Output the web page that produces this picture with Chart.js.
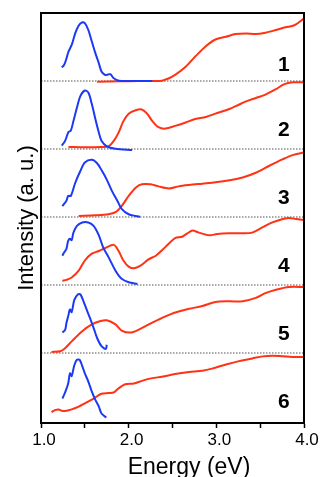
<!DOCTYPE html>
<html>
<head>
<meta charset="utf-8">
<script src="https://cdn.jsdelivr.net/npm/chart.js@4/dist/chart.umd.min.js"></script>
<style>
  body { margin: 0; background: #fff; }
  #wrap { width: 321px; height: 477px; }
</style>
</head>
<body>
<div id="wrap"><canvas id="myChart" width="321" height="477"></canvas></div>
<script>
// emission spectra (blue), [energy eV, intensity]
const pl1 = [[1.237,0.20],[1.26,0.23],[1.275,0.27],[1.29,0.33],[1.313,0.43],[1.35,0.53],[1.39,0.70],[1.427,0.81],[1.466,0.86],[1.50,0.85],[1.54,0.75],[1.58,0.58],[1.62,0.41],[1.66,0.26],[1.69,0.14],[1.73,0.09],[1.75,0.09],[1.79,0.10],[1.83,0.04],[1.89,0.005],[2.0,0],[2.27,0]];
const pl2 = [[1.237,0.05],[1.275,0.12],[1.313,0.25],[1.34,0.27],[1.37,0.41],[1.41,0.61],[1.45,0.78],[1.50,0.86],[1.54,0.83],[1.58,0.66],[1.62,0.44],[1.66,0.24],[1.69,0.12],[1.75,0.04],[1.85,0.005],[2.04,-0.015]];
const pl3 = [[1.244,0.16],[1.29,0.24],[1.31,0.31],[1.34,0.31],[1.39,0.50],[1.45,0.68],[1.50,0.80],[1.58,0.84],[1.64,0.79],[1.69,0.69],[1.75,0.55],[1.81,0.38],[1.87,0.24],[1.92,0.12],[2.0,0.04],[2.08,0.015],[2.13,0.005]];
const pl4 = [[1.244,0.43],[1.255,0.46],[1.275,0.50],[1.29,0.53],[1.31,0.65],[1.33,0.68],[1.35,0.66],[1.37,0.77],[1.41,0.87],[1.47,0.92],[1.54,0.92],[1.60,0.87],[1.66,0.73],[1.71,0.55],[1.77,0.41],[1.85,0.21],[1.92,0.09],[2.0,0.04],[2.10,0.015]];
const pl5 = [[1.244,0.30],[1.275,0.34],[1.29,0.44],[1.31,0.54],[1.33,0.64],[1.35,0.60],[1.38,0.78],[1.42,0.86],[1.45,0.86],[1.485,0.76],[1.52,0.64],[1.56,0.51],[1.60,0.37],[1.64,0.22],[1.69,0.10],[1.74,0.06],[1.75,0.12]];
const pl6 = [[1.244,0.33],[1.275,0.42],[1.31,0.55],[1.33,0.70],[1.35,0.66],[1.38,0.82],[1.41,0.90],[1.44,0.90],[1.47,0.81],[1.50,0.70],[1.54,0.58],[1.58,0.43],[1.62,0.31],[1.66,0.21],[1.69,0.11],[1.745,0.05]];

// absorption spectra (red)
const abs1 = [[1.64,-0.01],[1.9,-0.005],[2.1,0],[2.27,0],[2.38,0.005],[2.46,0.04],[2.53,0.09],[2.65,0.21],[2.76,0.36],[2.88,0.51],[2.99,0.61],[3.11,0.65],[3.22,0.69],[3.34,0.70],[3.45,0.69],[3.56,0.71],[3.68,0.75],[3.79,0.79],[3.89,0.82],[4.0,0.92]];
const abs2 = [[1.313,0.03],[1.50,0.025],[1.69,0.03],[1.77,0.04],[1.83,0.12],[1.885,0.24],[1.94,0.41],[2.0,0.52],[2.08,0.57],[2.15,0.58],[2.21,0.52],[2.27,0.41],[2.34,0.32],[2.42,0.30],[2.53,0.34],[2.65,0.39],[2.76,0.44],[2.88,0.47],[2.99,0.52],[3.11,0.57],[3.22,0.63],[3.34,0.70],[3.45,0.75],[3.56,0.80],[3.68,0.88],[3.77,0.95],[3.87,0.98],[4.0,0.98]];
const abs3 = [[1.43,0.015],[1.62,0.025],[1.77,0.04],[1.85,0.07],[1.92,0.16],[2.0,0.31],[2.08,0.43],[2.15,0.48],[2.25,0.48],[2.34,0.45],[2.46,0.42],[2.57,0.45],[2.69,0.47],[2.84,0.49],[2.99,0.51],[3.15,0.54],[3.30,0.58],[3.45,0.65],[3.60,0.75],[3.76,0.85],[3.87,0.91],[4.0,0.95]];
const abs4 = [[1.244,0.06],[1.29,0.075],[1.35,0.11],[1.43,0.21],[1.50,0.36],[1.58,0.46],[1.66,0.50],[1.73,0.54],[1.83,0.59],[1.885,0.50],[1.94,0.36],[2.0,0.27],[2.06,0.245],[2.13,0.28],[2.23,0.38],[2.31,0.43],[2.38,0.51],[2.46,0.61],[2.53,0.69],[2.61,0.71],[2.67,0.76],[2.73,0.80],[2.80,0.77],[2.92,0.73],[3.01,0.75],[3.15,0.76],[3.30,0.76],[3.41,0.77],[3.53,0.85],[3.64,0.92],[3.76,0.97],[3.83,0.985],[3.91,0.97],[4.0,0.955]];
const abs5 = [[1.12,0.015],[1.22,0.025],[1.275,0.07],[1.35,0.17],[1.47,0.32],[1.58,0.42],[1.68,0.47],[1.75,0.48],[1.85,0.42],[1.92,0.33],[2.02,0.30],[2.11,0.34],[2.23,0.42],[2.34,0.49],[2.46,0.56],[2.57,0.61],[2.69,0.65],[2.84,0.69],[2.99,0.75],[3.15,0.76],[3.30,0.76],[3.45,0.81],[3.56,0.88],[3.68,0.93],[3.83,0.97],[4.0,0.97]];
const abs6 = [[1.12,0.13],[1.16,0.16],[1.20,0.17],[1.237,0.15],[1.29,0.15],[1.35,0.17],[1.43,0.21],[1.50,0.26],[1.60,0.33],[1.69,0.40],[1.77,0.41],[1.83,0.42],[1.885,0.48],[1.96,0.54],[2.06,0.55],[2.15,0.59],[2.27,0.63],[2.38,0.65],[2.53,0.69],[2.69,0.72],[2.84,0.74],[2.95,0.77],[3.11,0.83],[3.26,0.88],[3.41,0.92],[3.53,0.95],[3.64,0.96],[3.76,0.95],[3.87,0.94],[4.0,0.94]];

const sampleLabels = ['1', '2', '3', '4', '5', '6'];
const xTicks = [1.0, 2.0, 3.0, 4.0];

const plList = [pl1, pl2, pl3, pl4, pl5, pl6];
const absList = [abs1, abs2, abs3, abs4, abs5, abs6];

// each panel is stacked one unit above the next, panel 1 on top
const offset = i => 5 - i;
const shift = (arr, i) => arr.map(p => ({ x: p[0], y: p[1] + offset(i) }));

const datasets = [];
plList.forEach((arr, i) => {
    datasets.push({
        label: 'PL ' + sampleLabels[i],
        data: shift(arr, i),
        borderColor: 'rgb(28, 58, 245)',
        borderWidth: 2,
        pointRadius: 0,
        tension: 0.3,
        order: 0
    });
});
absList.forEach((arr, i) => {
    datasets.push({
        label: 'Abs ' + sampleLabels[i],
        data: shift(arr, i),
        borderColor: 'rgb(255, 50, 20)',
        borderWidth: 2,
        pointRadius: 0,
        tension: 0.3,
        order: 1
    });
});
// dotted baselines (not for the bottom panel, which sits on the frame)
for (let i = 0; i < 5; i++) {
    datasets.push({
        label: 'base ' + sampleLabels[i],
        data: [{ x: 1.0, y: offset(i) }, { x: 4.0, y: offset(i) }],
        borderColor: '#8a8a8a',
        borderWidth: 1.5,
        borderDash: [1.5, 1.5],
        pointRadius: 0,
        order: 2
    });
}

const FONT = '"Liberation Sans", Arial, Helvetica, sans-serif';

const extras = {
    id: 'extras',
    afterDatasetsDraw(chart) {
        const c = chart.ctx;
        const a = chart.chartArea;
        const xs = chart.scales.x, ys = chart.scales.y;
        c.save();
        // numbers
        c.fillStyle = '#000';
        c.font = 'bold 21px ' + FONT;
        c.textAlign = 'center';
        c.textBaseline = 'middle';
        sampleLabels.forEach((t, i) => {
            c.fillText(t, xs.getPixelForValue(3.77), ys.getPixelForValue(offset(i) + (i === 0 ? 0.23 : 0.27)));
        });
        // frame
        c.strokeStyle = '#000';
        c.lineWidth = 2;
        c.strokeRect(a.left, a.top, a.right - a.left, a.bottom - a.top);
        // x axis title
        c.font = '23px ' + FONT;
        c.textBaseline = 'alphabetic';
        c.fillText('Energy (eV)', 189, 474);
        c.restore();
    }
};

const ctx = document.getElementById('myChart').getContext('2d');
const myChart = new Chart(ctx, {
    type: 'line',
    data: { datasets: datasets },
    options: {
        responsive: false,
        animation: false,
        events: [],
        layout: { padding: { top: 13, right: 17, left: 0, bottom: 0 } },
        plugins: { legend: { display: false }, tooltip: { enabled: false } },
        scales: {
            x: {
                type: 'linear',
                min: 1.0,
                max: 4.0,
                afterFit: s => { s.height = 54; },
                afterBuildTicks: s => { s.ticks = [1, 1.5, 2, 2.5, 3, 3.5, 4].map(v => ({ value: v })); },
                ticks: {
                    autoSkip: false,
                    maxRotation: 0,
                    color: '#000',
                    font: { family: FONT, size: 17 },
                    padding: 2,
                    labelOffset: 3,
                    callback: v => xTicks.includes(v) ? v.toFixed(1) : ''
                },
                grid: { drawOnChartArea: false, drawTicks: true, tickLength: 5, tickColor: '#000', tickWidth: 1.5 },
                border: { display: true, color: '#000', width: 2 }
            },
            y: {
                type: 'linear',
                min: -0.03,
                max: 6,
                afterFit: s => { s.width = 41; },
                ticks: { display: false },
                grid: { display: false },
                border: { display: false },
                title: {
                    display: true,
                    text: 'Intensity (a. u.)',
                    color: '#000',
                    font: { family: FONT, size: 22 },
                    padding: { top: 14, bottom: 0 }
                }
            }
        }
    },
    plugins: [extras]
});
</script>
</body>
</html>
